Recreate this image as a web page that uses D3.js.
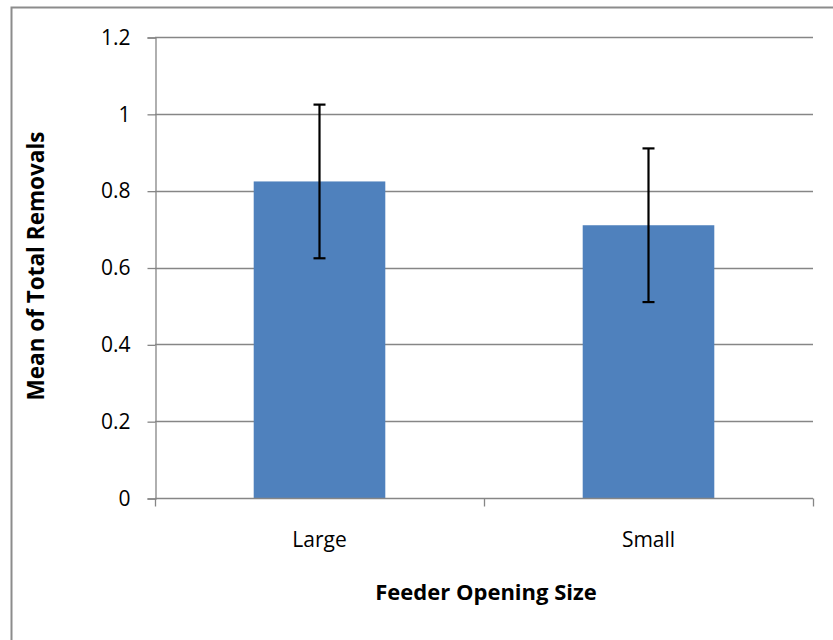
<!DOCTYPE html>
<html>
<head>
<meta charset="utf-8">
<script src="https://cdn.jsdelivr.net/npm/d3@7"></script>
<style>
  html, body { margin: 0; padding: 0; background: #fff; }
  svg { display: block; }
  text { font-family: "Open Sans", "Lato", sans-serif; fill: #000; }
</style>
</head>
<body>
<svg id="chart" width="833" height="640"></svg>
<script>
const categories = ["Large", "Small"];
const means = [0.824, 0.710];
const errors = [0.200, 0.200];
const yTicks = [0, 0.2, 0.4, 0.6, 0.8, 1, 1.2];
const yTickLabels = ["0", "0.2", "0.4", "0.6", "0.8", "1", "1.2"];
const xTitle = "Feeder Opening Size";
const yTitle = "Mean of Total Removals";

const svg = d3.select("#chart");
const plotL = 155, plotR = 813, plotT = 37, plotB = 498;

// outer frame
svg.append("rect")
  .attr("x", 11.5).attr("y", 7.5)
  .attr("width", 900).attr("height", 900)
  .attr("fill", "none").attr("stroke", "#8c8c8c").attr("stroke-width", 2);

const x = d3.scaleBand().domain(categories).range([plotL, plotR])
  .paddingInner(0.6).paddingOuter(0.3);
const y = d3.scaleLinear().domain([0, 1.2]).range([plotB, plotT]);

// gridlines
svg.append("g").selectAll("line").data(yTicks.filter(d => d > 0)).join("line")
  .attr("x1", plotL).attr("x2", plotR)
  .attr("y1", d => Math.round(y(d)) + 0.5).attr("y2", d => Math.round(y(d)) + 0.5)
  .attr("stroke", "#868686").attr("stroke-width", 1.3);

// bars
svg.append("g").selectAll("rect").data(categories).join("rect")
  .attr("x", d => x(d)).attr("width", x.bandwidth())
  .attr("y", (d, i) => y(means[i]))
  .attr("height", (d, i) => y(0) - y(means[i]))
  .attr("fill", "#4f81bd");

// y axis
const yAxis = d3.axisLeft(y).tickValues(yTicks)
  .tickFormat((d, i) => yTickLabels[i]).tickSize(8).tickPadding(17);
const gy = svg.append("g").attr("transform", `translate(${plotL + 0.5},0.5)`).call(yAxis);
gy.select(".domain").attr("stroke", "#868686").attr("stroke-width", 1.3);
gy.selectAll(".tick line").attr("stroke", "#868686").attr("stroke-width", 1.3);
gy.selectAll(".tick text").style("font-size", "21px");
gy.attr("font-family", null).attr("font-size", null);

// x axis
const xAxis = d3.axisBottom(x).tickSize(0).tickPadding(34);
const gx = svg.append("g").attr("transform", `translate(0,${plotB + 0.5})`).call(xAxis);
gx.select(".domain").remove();
gx.selectAll(".tick text").style("font-size", "21px");
gx.attr("font-family", null).attr("font-size", null);
gx.append("line").attr("x1", plotL).attr("x2", plotR).attr("y1", 0).attr("y2", 0)
  .attr("stroke", "#868686").attr("stroke-width", 1.3);
// category boundary ticks
const boundaries = [plotL, (x(categories[0]) + x.bandwidth() + x(categories[1])) / 2, plotR];
gx.selectAll(".bt").data(boundaries).join("line").attr("class", "bt")
  .attr("x1", d => Math.round(d) + 0.5).attr("x2", d => Math.round(d) + 0.5)
  .attr("y1", 0).attr("y2", 8)
  .attr("stroke", "#868686").attr("stroke-width", 1.3);

// error bars
const eb = svg.append("g").attr("stroke", "#000").attr("stroke-width", 2.2);
categories.forEach((c, i) => {
  const cx = x(c) + x.bandwidth() / 2;
  const hi = y(means[i] + errors[i]), lo = y(means[i] - errors[i]);
  eb.append("line").attr("x1", cx).attr("x2", cx).attr("y1", hi).attr("y2", lo);
  eb.append("line").attr("x1", cx - 6).attr("x2", cx + 6).attr("y1", hi).attr("y2", hi);
  eb.append("line").attr("x1", cx - 6).attr("x2", cx + 6).attr("y1", lo).attr("y2", lo);
});

// titles
svg.append("text").attr("x", 486).attr("y", 600)
  .attr("text-anchor", "middle").style("font-size", "22px").style("font-weight", "bold")
  .text(xTitle);
svg.append("text").attr("transform", `translate(44,266) rotate(-90)`)
  .attr("text-anchor", "middle").style("font-size", "22.5px").style("font-weight", "bold")
  .text(yTitle);
</script>
</body>
</html>
